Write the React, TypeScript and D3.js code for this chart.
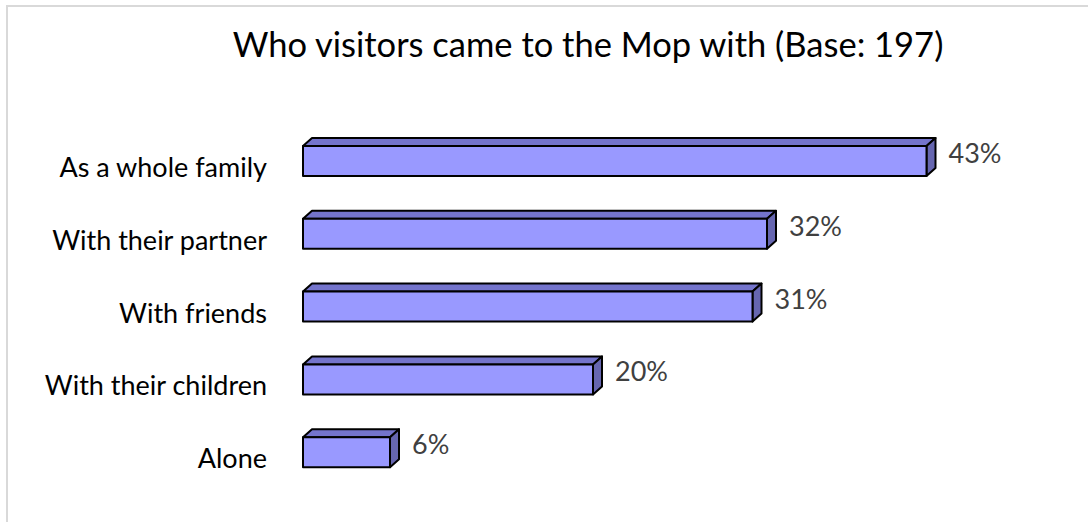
import * as d3 from "d3";
import type { ReactElement } from "react";

const WIDTH = 1088;
const HEIGHT = 522;

const TITLE = "Who visitors came to the Mop with (Base: 197)";
const categories = [
  "As a whole family",
  "With their partner",
  "With friends",
  "With their children",
  "Alone",
];
const shares = [0.43, 0.32, 0.31, 0.2, 0.06];

const FRONT = "#9999ff";
const TOP = "#7474cc";
const SIDE = "#6666b0";
const DEPTH_X = 9;
const DEPTH_Y = 8;
const FRONT_H = 30;
const FONT = "Lato, 'Open Sans', sans-serif";

const x = d3.scaleLinear().domain([0, 0.45]).range([303, 955.5]);
const y = d3.scalePoint<string>().domain(categories).range([157, 448.2]);
const pct = d3.format(".0%");

const App = (): ReactElement => {
  const x0 = x(0);
  return (
    <svg
      width={WIDTH}
      height={HEIGHT}
      viewBox={`0 0 ${WIDTH} ${HEIGHT}`}
      style={{ position: "absolute", left: 0, top: 0, background: "#fff" }}
    >
      {/* chart area border, only top and left are inside the crop */}
      <rect x={7} y={6} width={WIDTH + 20} height={HEIGHT + 20} fill="#fff" stroke="#d9d9d9" strokeWidth={2} />

      <text x={588} y={57} textAnchor="middle" fontFamily={FONT} fontSize={34.5} fill="#000">
        {TITLE}
      </text>

      {categories.map((cat, i) => {
        const c = y(cat) ?? 0;
        const top = c - 11;
        const x1 = x(shares[i]);
        const topFace = [
          [x0, top],
          [x0 + DEPTH_X, top - DEPTH_Y],
          [x1 + DEPTH_X, top - DEPTH_Y],
          [x1, top],
        ];
        const sideFace = [
          [x1, top],
          [x1 + DEPTH_X, top - DEPTH_Y],
          [x1 + DEPTH_X, top + FRONT_H - DEPTH_Y],
          [x1, top + FRONT_H],
        ];
        const pts = (p: number[][]) => p.map((q) => q.join(",")).join(" ");
        return (
          <g key={cat}>
            <text
              x={267}
              y={c + 20}
              textAnchor="end"
              fontFamily={FONT}
              fontSize={27}
              fill="#000"
            >
              {cat}
            </text>
            <g stroke="#000" strokeWidth={2} strokeLinejoin="round">
              <polygon points={pts(topFace)} fill={TOP} />
              <polygon points={pts(sideFace)} fill={SIDE} />
              <rect x={x0} y={top} width={x1 - x0} height={FRONT_H} fill={FRONT} />
            </g>
            <text
              x={x1 + 22}
              y={c + 6}
              fontFamily={FONT}
              fontSize={27}
              fill="#404040"
            >
              {pct(shares[i])}
            </text>
          </g>
        );
      })}
    </svg>
  );
};

export default App;
